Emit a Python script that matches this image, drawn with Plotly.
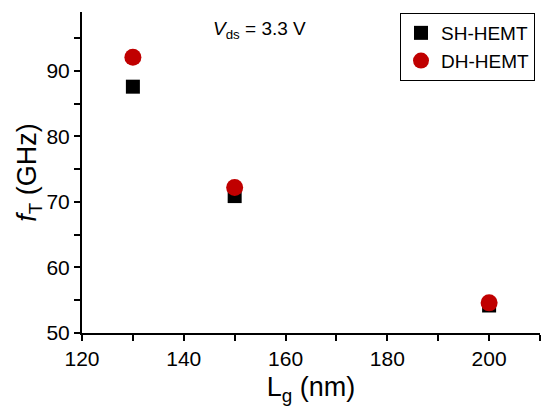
import plotly.graph_objects as go

lg = [130, 150, 200]
sh_ft = [87.6, 70.9, 54.2]
dh_ft = [92.1, 72.2, 54.6]

x_ticks = [120, 130, 140, 150, 160, 170, 180, 190, 200, 210]
x_labels = ["120", " ", "140", " ", "160", " ", "180", " ", "200", " "]
y_ticks = [50, 55, 60, 65, 70, 75, 80, 85, 90, 95]
y_labels = ["50", " ", "60", " ", "70", " ", "80", " ", "90", " "]

W, H = 541, 413
ml, mr, mt, mb = 82, 1, 12, 80

fig = go.Figure()
fig.add_trace(go.Scatter(x=lg, y=sh_ft, mode="markers", name="SH-HEMT",
                         marker=dict(symbol="square", size=14, color="black",
                                     line=dict(width=0))))
fig.add_trace(go.Scatter(x=lg, y=dh_ft, mode="markers", name="DH-HEMT",
                         marker=dict(symbol="circle", size=17, color="#C00000",
                                     line=dict(width=0))))

font = "Arial, Liberation Sans, sans-serif"
axis_common = dict(showgrid=False, zeroline=False, showline=True, linecolor="black",
                   linewidth=2, ticks="outside", ticklen=6, tickwidth=2,
                   tickcolor="black", tickfont=dict(family=font, size=21, color="black"))

fig.update_xaxes(range=[120, 210], tickmode="array", tickvals=x_ticks, ticktext=x_labels,
                 title=dict(text="L<sub>g</sub> (nm)", font=dict(family=font, size=27, color="black"),
                            standoff=8),
                 **axis_common)
fig.update_yaxes(range=[50, 99], tickmode="array", tickvals=y_ticks, ticktext=y_labels,
                 title=dict(text="<i>f</i><sub>T</sub> (GHz)", font=dict(family=font, size=27, color="black"),
                            standoff=2),
                 **axis_common)

pw, ph = W - ml - mr, H - mt - mb
lx1, ly0 = 535, 13
def px(x): return (x - ml) / pw
def py(y): return (H - mb - y) / ph

fig.update_layout(
    width=W, height=H, margin=dict(l=ml, r=mr, t=mt, b=mb),
    plot_bgcolor="white", paper_bgcolor="white",
    font=dict(family=font, color="black"),
    legend=dict(x=px(lx1), xanchor="right", y=py(ly0), yanchor="top",
                bgcolor="white", bordercolor="black", borderwidth=1,
                font=dict(family=font, size=19, color="black"),
                itemwidth=30, tracegroupgap=0),
    annotations=[dict(text="<i>V</i><sub>ds</sub> = 3.3 V", xref="paper", yref="paper",
                      x=px(211), y=py(30), xanchor="left", yanchor="middle", showarrow=False,
                      font=dict(family=font, size=19, color="black"))],
)

fig.write_html("out.html")
